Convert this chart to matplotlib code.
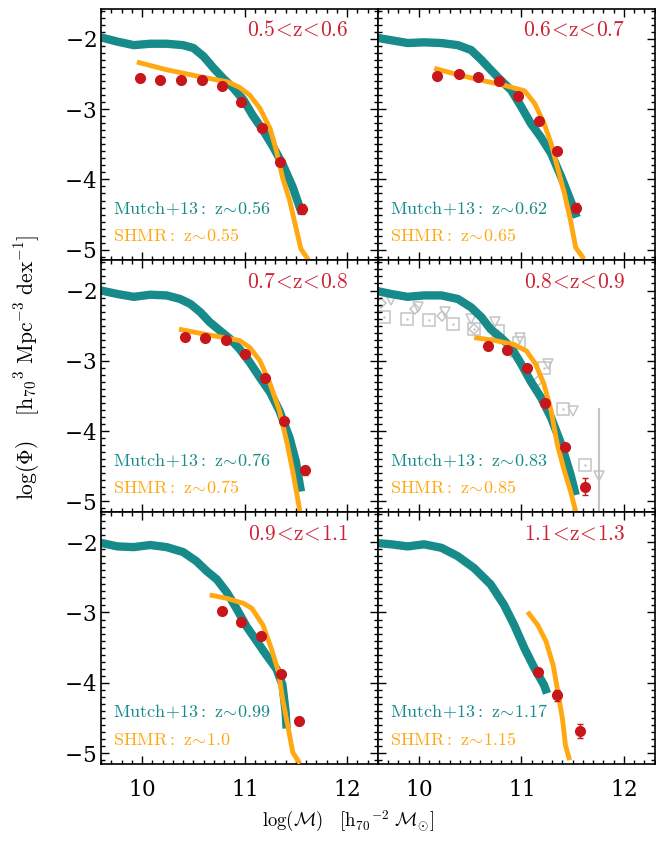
import matplotlib
matplotlib.use('Agg')
import matplotlib.pyplot as plt
import numpy as np

plt.rcParams['mathtext.fontset'] = 'cm'
plt.rcParams['font.family'] = 'serif'
plt.rcParams['font.serif'] = ['DejaVu Serif']
plt.rcParams['axes.formatter.use_mathtext'] = True

# redshift bins and reference redshifts
z_bins = ['0.5<z<0.6', '0.6<z<0.7', '0.7<z<0.8', '0.8<z<0.9', '0.9<z<1.1', '1.1<z<1.3']
mutch_z = ['0.56', '0.62', '0.76', '0.83', '0.99', '1.17']
shmr_z = ['0.55', '0.65', '0.75', '0.85', '1.0', '1.15']

# measured mass function (red points)
pts_x = [
    [9.98, 10.18, 10.38, 10.58, 10.78, 10.97, 11.17, 11.35, 11.56],
    [10.18, 10.39, 10.58, 10.78, 10.97, 11.17, 11.35, 11.53],
    [10.42, 10.61, 10.82, 11.00, 11.20, 11.38, 11.59],
    [10.67, 10.86, 11.05, 11.23, 11.43, 11.62],
    [10.78, 10.97, 11.16, 11.36, 11.53],
    [11.16, 11.35, 11.57],
]
pts_y = [
    [-2.56, -2.59, -2.59, -2.58, -2.67, -2.90, -3.27, -3.75, -4.42],
    [-2.53, -2.50, -2.55, -2.60, -2.81, -3.17, -3.59, -4.40],
    [-2.66, -2.67, -2.70, -2.91, -3.25, -3.86, -4.56],
    [-2.79, -2.85, -3.10, -3.60, -4.22, -4.79],
    [-2.98, -3.13, -3.33, -3.87, -4.55],
    [-3.84, -4.18, -4.68],
]
pts_err = [
    [0, 0, 0, 0, 0, 0, 0, 0, 0.07],
    [0, 0, 0, 0, 0, 0, 0, 0.06],
    [0, 0, 0, 0, 0, 0, 0.07],
    [0, 0, 0, 0, 0, 0.12],
    [0, 0, 0, 0, 0.05],
    [0, 0.08, 0.1],
]

# Mutch+13 model (teal band centre)
mutch_x = [
    [9.60, 9.76, 9.92, 10.08, 10.24, 10.40, 10.50, 10.60, 10.70, 10.79, 10.89, 10.99, 11.08, 11.18, 11.28, 11.37, 11.47, 11.56],
    [9.57, 9.73, 9.89, 10.05, 10.22, 10.38, 10.51, 10.61, 10.70, 10.80, 10.90, 11.00, 11.09, 11.19, 11.29, 11.39, 11.48, 11.54],
    [9.60, 9.76, 9.92, 10.08, 10.24, 10.37, 10.47, 10.57, 10.66, 10.76, 10.86, 10.95, 11.05, 11.15, 11.25, 11.34, 11.44, 11.50, 11.55],
    [9.57, 9.73, 9.89, 10.05, 10.22, 10.38, 10.51, 10.61, 10.70, 10.80, 10.90, 11.00, 11.09, 11.19, 11.29, 11.39, 11.48, 11.53],
    [9.60, 9.76, 9.92, 10.08, 10.24, 10.40, 10.53, 10.63, 10.73, 10.83, 10.92, 11.02, 11.12, 11.21, 11.31, 11.37, 11.40, 11.41],
    [9.57, 9.73, 9.89, 10.05, 10.22, 10.38, 10.54, 10.70, 10.83, 10.93, 11.03, 11.13, 11.22, 11.25],
]
mutch_y = [
    [-1.98, -2.04, -2.09, -2.07, -2.07, -2.09, -2.13, -2.25, -2.42, -2.56, -2.70, -2.87, -3.09, -3.30, -3.54, -3.78, -4.11, -4.49],
    [-1.98, -2.02, -2.06, -2.05, -2.06, -2.09, -2.16, -2.30, -2.44, -2.59, -2.73, -2.97, -3.20, -3.40, -3.63, -3.97, -4.30, -4.54],
    [-2.00, -2.05, -2.09, -2.06, -2.07, -2.12, -2.19, -2.31, -2.45, -2.57, -2.69, -2.83, -3.02, -3.24, -3.45, -3.71, -4.10, -4.43, -4.86],
    [-2.00, -2.05, -2.09, -2.07, -2.07, -2.12, -2.24, -2.38, -2.55, -2.67, -2.81, -3.05, -3.29, -3.52, -3.81, -4.19, -4.62, -4.91],
    [-2.01, -2.06, -2.07, -2.04, -2.07, -2.14, -2.27, -2.41, -2.53, -2.72, -2.94, -3.20, -3.41, -3.60, -3.80, -4.03, -4.41, -4.65],
    [-2.01, -2.03, -2.06, -2.03, -2.08, -2.20, -2.37, -2.60, -2.89, -3.18, -3.51, -3.80, -4.03, -4.15],
]

# SHMR prediction (orange)
shmr_x = [
    [9.95, 10.24, 10.57, 10.83, 10.95, 11.05, 11.15, 11.25, 11.31, 11.37, 11.44, 11.50, 11.55, 11.63],
    [10.15, 10.38, 10.61, 10.83, 11.03, 11.13, 11.22, 11.29, 11.35, 11.42, 11.48, 11.53, 11.61],
    [10.36, 10.57, 10.76, 10.95, 11.05, 11.15, 11.25, 11.34, 11.41, 11.47, 11.54],
    [10.54, 10.74, 10.93, 11.05, 11.14, 11.22, 11.29, 11.35, 11.42, 11.48, 11.53],
    [10.66, 10.83, 10.99, 11.07, 11.18, 11.26, 11.33, 11.37, 11.42, 11.47, 11.54],
    [11.06, 11.16, 11.24, 11.31, 11.35, 11.40, 11.43, 11.47],
]
shmr_y = [
    [-2.33, -2.44, -2.54, -2.61, -2.69, -2.80, -2.99, -3.28, -3.59, -3.97, -4.30, -4.68, -4.99, -5.16],
    [-2.42, -2.51, -2.59, -2.66, -2.74, -2.92, -3.20, -3.49, -3.82, -4.20, -4.59, -4.97, -5.13],
    [-2.55, -2.61, -2.66, -2.71, -2.81, -3.00, -3.33, -3.71, -4.14, -4.57, -5.14],
    [-2.67, -2.71, -2.77, -2.86, -3.05, -3.33, -3.71, -4.19, -4.57, -4.86, -5.14],
    [-2.75, -2.80, -2.87, -2.94, -3.18, -3.51, -3.84, -4.22, -4.60, -4.99, -5.15],
    [-2.99, -3.18, -3.41, -3.75, -4.08, -4.51, -4.89, -5.10],
]

# literature points in the 0.8<z<0.9 panel (grey)
lit_sq_x = [9.66, 9.88, 10.10, 10.33, 10.54, 10.77, 10.98, 11.22, 11.41, 11.62]
lit_sq_y = [-2.38, -2.41, -2.42, -2.48, -2.55, -2.57, -2.74, -3.10, -3.68, -4.48]
lit_tri_x = [9.73, 9.99, 10.25, 10.51, 10.74, 10.99, 11.26, 11.50, 11.76]
lit_tri_y = [-2.14, -2.24, -2.31, -2.41, -2.45, -2.67, -3.05, -3.71, -4.64]
lit_tri_lo = [0, 0, 0, 0, 0, 0, 0, 0, 0.56]
lit_tri_hi = [0, 0, 0, 0, 0, 0, 0, 0, 0.97]
lit_dia_x = [9.63, 9.96, 10.23, 10.54, 10.90, 11.16]
lit_dia_y = [-2.18, -2.26, -2.36, -2.55, -2.88, -3.29]

teal = '#178a8a'
orange = '#ffa812'
red = '#c8161d'
grey = '#c4c4c4'

fig, axes = plt.subplots(3, 2, figsize=(6.56, 8.59), dpi=100, sharex=True, sharey=True)
fig.subplots_adjust(left=0.154, right=0.998, top=0.99, bottom=0.111, hspace=0, wspace=0)

for i, ax in enumerate(axes.flat):
    ax.plot(mutch_x[i], mutch_y[i], color=teal, lw=6, solid_capstyle='butt', zorder=2)
    ax.plot(shmr_x[i], shmr_y[i], color=orange, lw=3.5, solid_capstyle='butt', zorder=3)
    if i == 3:
        ax.errorbar(lit_tri_x, lit_tri_y, yerr=[lit_tri_lo, lit_tri_hi], fmt='v', ms=7,
                    mfc='none', mec=grey, ecolor=grey, elinewidth=1.5, mew=1.1, zorder=1)
        ax.plot(lit_sq_x, lit_sq_y, 's', ms=8, mfc='none', mec=grey, mew=1.1, zorder=1)
        ax.plot(lit_sq_x, lit_sq_y, '.', ms=1.5, color=grey, zorder=1)
        ax.plot(lit_dia_x, lit_dia_y, 'D', ms=5, mfc='none', mec=grey, mew=1.1, zorder=1)
    ax.errorbar(pts_x[i], pts_y[i], yerr=pts_err[i], fmt='o', ms=7, color=red,
                elinewidth=1, capsize=2, zorder=4)

    ax.text(0.895, 0.915, r'$\mathrm{' + z_bins[i].replace('<', r'\!<\!') + '}$',
            transform=ax.transAxes, ha='right', va='center', color='#cc2233', fontsize=15.5)
    ax.text(0.045, 0.205, r'$\mathrm{Mutch\!+\!13{:}\ z\!\sim\!' + mutch_z[i] + '}$',
            transform=ax.transAxes, ha='left', va='center', color=teal, fontsize=13)
    ax.text(0.045, 0.095, r'$\mathrm{SHMR{:}\ z\!\sim\!' + shmr_z[i] + '}$',
            transform=ax.transAxes, ha='left', va='center', color=orange, fontsize=13)

    ax.set_xlim(9.6, 12.3)
    ax.set_ylim(-5.15, -1.57)
    ax.set_xticks([10, 11, 12])
    ax.set_yticks([-2, -3, -4, -5])
    ax.set_xticks(np.arange(9.6, 12.31, 0.1), minor=True)
    ax.set_yticks(np.arange(-5.1, -1.59, 0.1), minor=True)
    ax.tick_params(which='both', direction='in', top=True, right=True, width=1, labelsize=15.5)
    ax.tick_params(which='major', length=6)
    ax.tick_params(which='minor', length=3)
    ax.tick_params(axis='x', pad=11)
    for s in ax.spines.values():
        s.set_linewidth(1.2)

fig.text(0.042, 0.573, r'$\log(\Phi)\quad\ [\mathrm{h}_{70}{}^{3}\ \mathrm{Mpc}^{-3}\ \mathrm{dex}^{-1}]$',
         rotation=90, ha='center', va='center', fontsize=15.5)
fig.text(0.53, 0.044, r'$\log(\mathcal{M})\quad[\mathrm{h}_{70}{}^{-2}\ \mathcal{M}_{\odot}]$',
         ha='center', va='center', fontsize=13.5)

fig.savefig('out.png', dpi=100)
